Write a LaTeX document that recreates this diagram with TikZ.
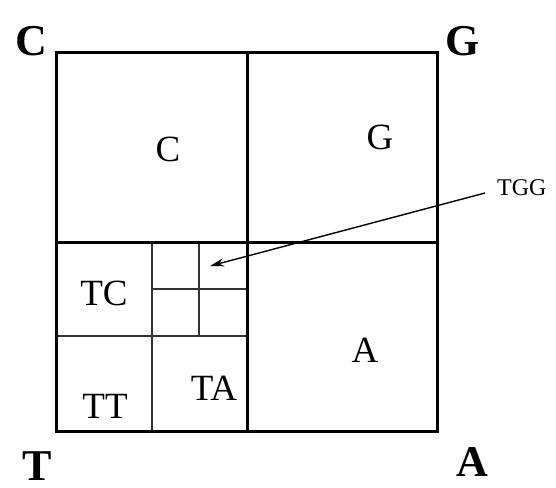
\documentclass[tikz,border=0pt]{standalone}
\usepackage{fontspec}
\setmainfont{Liberation Serif}
\usetikzlibrary{arrows.meta}
\begin{document}
\begin{tikzpicture}[x=1pt,y=-1pt,
  thickline/.style={line width=3pt},
  thinline/.style={line width=1.3pt, draw=black!80},
  corner/.style={font=\fontsize{44}{44}\selectfont\bfseries, inner sep=0pt},
  big/.style={font=\fontsize{37}{37}\selectfont, inner sep=0pt},
  small/.style={font=\fontsize{24}{24}\selectfont, inner sep=0pt}]
\useasboundingbox (0,0) rectangle (556,487);
% thin subdivisions
\draw[thinline] (152,243) -- (152,431);
\draw[thinline] (56,336) -- (247,336);
\draw[thinline] (199,243) -- (199,336);
\draw[thinline] (152,289) -- (247,289);
% thick outlines
\draw[thickline] (56,53) rectangle (437,431);
\draw[thickline] (247,53) -- (247,431);
\draw[thickline] (56,242) -- (437,242);
% corner labels
\node[corner] (cC) at (31,41) {C};
\node[corner] (cG) at (463,41) {G};
\node[corner] (cT) at (37,466) {T};
\node[corner] (cA) at (472,462) {A};
% quadrant labels
\node[big] (qC) at (168,149) {C};
\node[big] (qG) at (380,137) {G};
\node[big] (qA) at (365,350) {A};
\node[big] (qTC) at (104,293) {TC};
\node[big] (qTT) at (105,406) {TT};
\node[big] (qTA) at (214,388) {TA};
\node[small, anchor=west] (tgg) at (497,188) {TGG};
\coordinate (target) at (210,266);
\draw[line width=1.4pt, -{Stealth[length=14pt,width=8pt]}] (tgg.west) ++(-12,5) -- (target);
\end{tikzpicture}
\end{document}
